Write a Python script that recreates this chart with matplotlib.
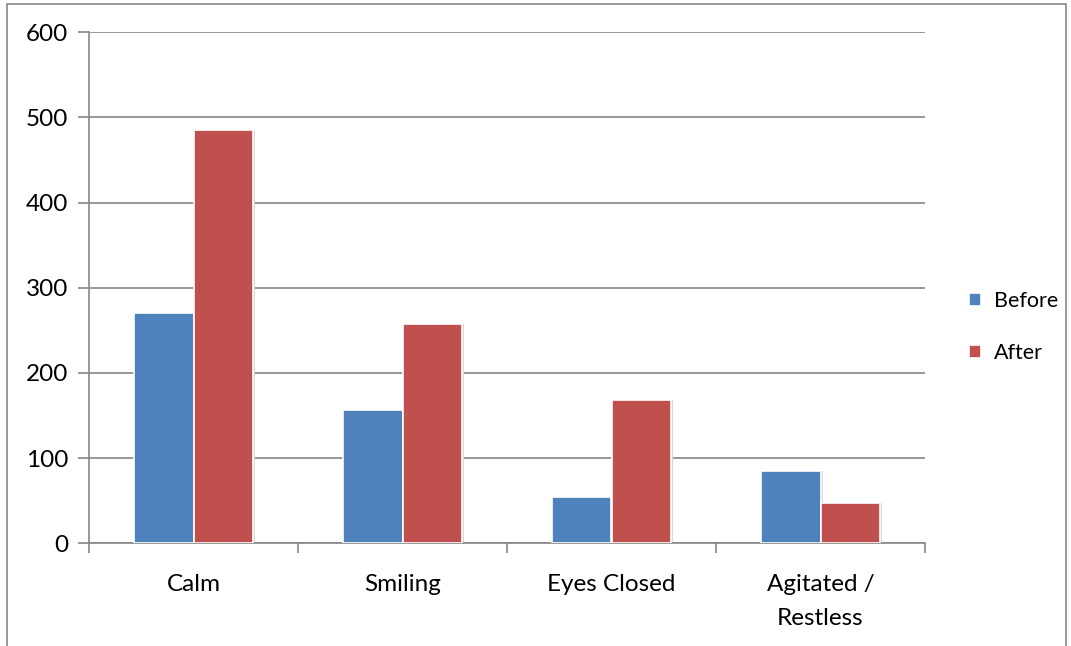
import matplotlib
matplotlib.use("Agg")
import matplotlib.pyplot as plt
import numpy as np
from matplotlib.patches import Rectangle

categories = ["Calm", "Smiling", "Eyes Closed", "Agitated /\nRestless"]
before = [270, 157, 54, 85]
after = [485, 258, 168, 47]
series_names = ["Before", "After"]
colors = ["#4F81BD", "#C0504D"]

plt.rcParams['font.family'] = ['Lato', 'DejaVu Sans']

fig = plt.figure(figsize=(10.71, 6.46), dpi=100)
ax = fig.add_axes([89/1071, 1 - 543.3/646, (925-89)/1071, (543.3-32.3)/646])

x = np.arange(len(categories))
w = 0.285
for i, (vals, name, col) in enumerate(zip([before, after], series_names, colors)):
    offs = (i - 0.5) * w
    # faint shadow behind bars
    ax.bar(x + offs + 0.01, vals, w, color="#d8d8d8", edgecolor="none", zorder=2)
    ax.bar(x + offs, vals, w, color=col, edgecolor="white", linewidth=1.2,
           label=name, zorder=3)

ax.set_xlim(-0.5, len(categories) - 0.5)
ax.set_ylim(0, 600)
ax.set_yticks(range(0, 601, 100))
ax.grid(axis='y', color="#868686", linewidth=1.2, zorder=1)
ax.set_axisbelow(True)

ax.set_xticks(x)
ax.set_xticklabels(categories, fontsize=17.5, linespacing=1.75)
ax.set_xticks(np.arange(-0.5, len(categories) + 0.5, 1), minor=True)
ax.tick_params(axis='x', which='major', length=0, pad=22)
ax.tick_params(axis='x', which='minor', length=7, width=1.2, color="#868686", direction='out')
ax.tick_params(axis='y', length=8, width=1.2, color="#868686", labelsize=17.5, pad=7)

for s in ["top", "right"]:
    ax.spines[s].set_visible(False)
for s in ["left", "bottom"]:
    ax.spines[s].set_color("#868686")
    ax.spines[s].set_linewidth(1.2)

leg = ax.legend(loc="center left", bbox_to_anchor=(1.03, 0.423), frameon=False,
                fontsize=15.5, handlelength=0.55, handleheight=0.55, labelspacing=1.5,
                handletextpad=0.6)

# outer frame of the chart area
fig.patches.append(Rectangle((7/1071, -0.01), (1066-7)/1071, 1 - 4/646 + 0.01,
                             transform=fig.transFigure, fill=False,
                             edgecolor="#868686", linewidth=1.2))

fig.savefig("out.png", dpi=100)
